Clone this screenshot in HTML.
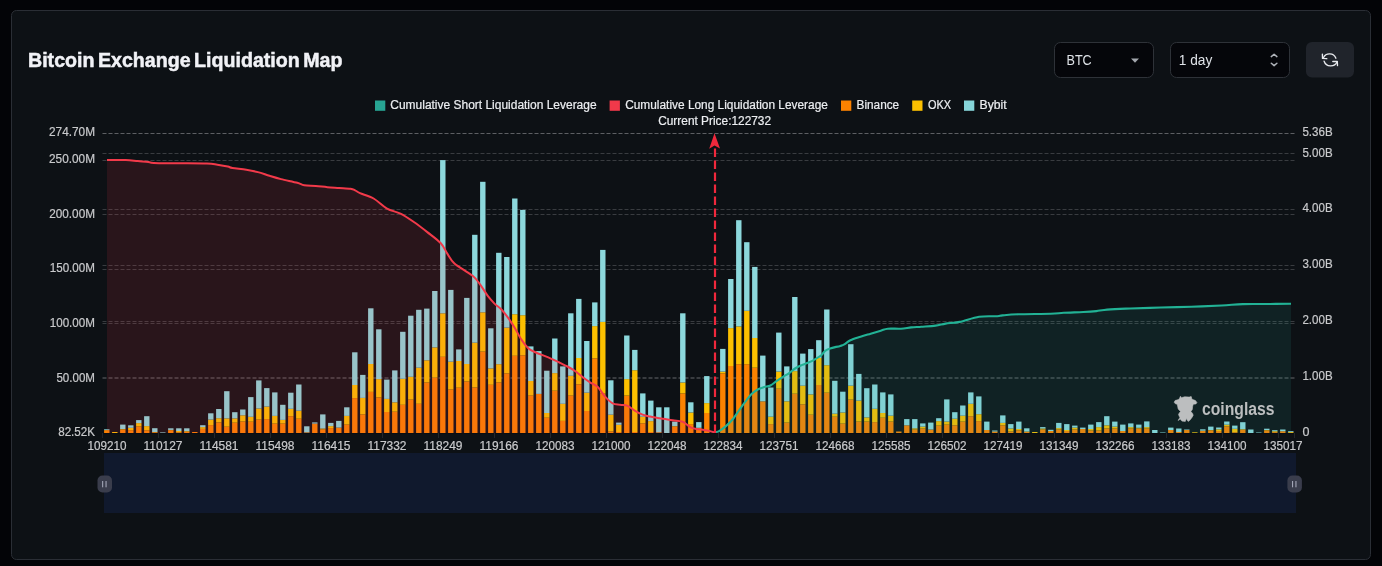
<!DOCTYPE html>
<html><head><meta charset="utf-8"><title>Bitcoin Exchange Liquidation Map</title>
<style>
html,body{margin:0;padding:0;background:#030407;width:1382px;height:566px;overflow:hidden}
svg{display:block}
text{font-family:'Liberation Sans', Arial, sans-serif}
</style></head><body>
<svg width="1382" height="566" viewBox="0 0 1382 566">
<rect x="0" y="0" width="1382" height="566" fill="#030407"/>
<rect x="11.5" y="10.5" width="1359" height="549" rx="5" fill="#0d1115" stroke="#2a2e35" stroke-width="1"/>

<text x="28" y="66.7" font-size="20" font-weight="700" fill="#f1f2f6" stroke="#f1f2f6" stroke-width="0.5" word-spacing="-2" textLength="314.5" lengthAdjust="spacingAndGlyphs">Bitcoin Exchange Liquidation Map</text>
<rect x="1054.5" y="42.5" width="99" height="35" rx="6" fill="#05060a" stroke="#2e3238"/>
<text x="1066.5" y="65" font-size="14" fill="#dfe3e8" textLength="25.2" lengthAdjust="spacingAndGlyphs">BTC</text>
<polygon points="1131,58.5 1139,58.5 1135,62.7" fill="#a3a7ad"/>
<rect x="1170.5" y="42.5" width="119" height="35" rx="6" fill="#05060a" stroke="#2e3238"/>
<text x="1178.8" y="65" font-size="14" fill="#dfe3e8" textLength="33.5" lengthAdjust="spacingAndGlyphs">1 day</text>
<path d="M1271.3 56.6 L1274.1 54.2 L1276.9 56.6 M1271.3 63.2 L1274.1 65.6 L1276.9 63.2" fill="none" stroke="#aeb2b8" stroke-width="1.5" stroke-linecap="round" stroke-linejoin="round"/>
<rect x="1306" y="42" width="48" height="35.5" rx="6" fill="#20242b"/>
<g fill="none" stroke="#e8eaee" stroke-width="1.35" stroke-linecap="round" stroke-linejoin="round"><path d="M1323.4 57.7 A6.85 6.85 0 0 1 1335.9 58.2"/><path d="M1322.4 54.1 L1322.5 58.4 L1326.8 58.7"/><path d="M1324.1 61.2 A6.96 6.96 0 0 0 1337.1 61.7"/><path d="M1332.8 61.5 L1337.3 61.5 L1337.5 65.6"/></g>
<rect x="375" y="100.5" width="10.3" height="10.3" fill="#27a593"/>
<text x="390.3" y="108.8" font-size="12" fill="#eceef1" stroke="#eceef1" stroke-width="0.2" textLength="206.3" lengthAdjust="spacingAndGlyphs">Cumulative Short Liquidation Leverage</text>
<rect x="609.6" y="100.5" width="10.3" height="10.3" fill="#f0394a"/>
<text x="625.2" y="108.8" font-size="12" fill="#eceef1" stroke="#eceef1" stroke-width="0.2" textLength="202.7" lengthAdjust="spacingAndGlyphs">Cumulative Long Liquidation Leverage</text>
<rect x="841" y="100.5" width="10.3" height="10.3" fill="#fc8200"/>
<text x="856.5" y="108.8" font-size="12" fill="#eceef1" stroke="#eceef1" stroke-width="0.2" textLength="42.7" lengthAdjust="spacingAndGlyphs">Binance</text>
<rect x="912.2" y="100.5" width="10.3" height="10.3" fill="#fcc000"/>
<text x="927.9" y="108.8" font-size="12" fill="#eceef1" stroke="#eceef1" stroke-width="0.2" textLength="23.1" lengthAdjust="spacingAndGlyphs">OKX</text>
<rect x="964" y="100.5" width="10.3" height="10.3" fill="#86d5d9"/>
<text x="979.6" y="108.8" font-size="12" fill="#eceef1" stroke="#eceef1" stroke-width="0.2" textLength="27.1" lengthAdjust="spacingAndGlyphs">Bybit</text>
<text x="658.2" y="124.9" font-size="12" fill="#eceef1" stroke="#eceef1" stroke-width="0.2" textLength="112.9" lengthAdjust="spacingAndGlyphs">Current Price:122732</text>
<line x1="102.5" y1="133.5" x2="1294.5" y2="133.5" stroke="rgba(255,255,255,0.185)" stroke-width="1" stroke-dasharray="4 2"/>
<line x1="102.5" y1="133.5" x2="1294.5" y2="133.5" stroke="rgba(255,255,255,0.185)" stroke-width="1" stroke-dasharray="4 2"/>
<line x1="102.5" y1="153.5" x2="1294.5" y2="153.5" stroke="rgba(255,255,255,0.185)" stroke-width="1" stroke-dasharray="4 2"/>
<line x1="102.5" y1="160.5" x2="1294.5" y2="160.5" stroke="rgba(255,255,255,0.185)" stroke-width="1" stroke-dasharray="4 2"/>
<line x1="102.5" y1="209.5" x2="1294.5" y2="209.5" stroke="rgba(255,255,255,0.185)" stroke-width="1" stroke-dasharray="4 2"/>
<line x1="102.5" y1="214.5" x2="1294.5" y2="214.5" stroke="rgba(255,255,255,0.185)" stroke-width="1" stroke-dasharray="4 2"/>
<line x1="102.5" y1="265.5" x2="1294.5" y2="265.5" stroke="rgba(255,255,255,0.185)" stroke-width="1" stroke-dasharray="4 2"/>
<line x1="102.5" y1="269.5" x2="1294.5" y2="269.5" stroke="rgba(255,255,255,0.185)" stroke-width="1" stroke-dasharray="4 2"/>
<line x1="102.5" y1="321.5" x2="1294.5" y2="321.5" stroke="rgba(255,255,255,0.185)" stroke-width="1" stroke-dasharray="4 2"/>
<line x1="102.5" y1="323.5" x2="1294.5" y2="323.5" stroke="rgba(255,255,255,0.185)" stroke-width="1" stroke-dasharray="4 2"/>
<line x1="102.5" y1="377.5" x2="1294.5" y2="377.5" stroke="rgba(255,255,255,0.185)" stroke-width="1" stroke-dasharray="4 2"/>
<line x1="102.5" y1="378.5" x2="1294.5" y2="378.5" stroke="rgba(255,255,255,0.185)" stroke-width="1" stroke-dasharray="4 2"/>
<rect x="104.1" y="430.10" width="5.4" height="2.90" fill="#fc8200"/>
<rect x="104.1" y="429.30" width="5.4" height="0.80" fill="#8cd8dc"/>
<rect x="112.1" y="432.00" width="5.4" height="1.00" fill="#fcc000"/>
<rect x="120.1" y="429.50" width="5.4" height="3.50" fill="#fc8200"/>
<rect x="120.1" y="429.00" width="5.4" height="0.50" fill="#fcc000"/>
<rect x="120.1" y="424.60" width="5.4" height="4.40" fill="#8cd8dc"/>
<rect x="128.1" y="430.15" width="5.4" height="2.85" fill="#fc8200"/>
<rect x="128.1" y="427.80" width="5.4" height="2.35" fill="#fcc000"/>
<rect x="128.1" y="425.30" width="5.4" height="2.50" fill="#8cd8dc"/>
<rect x="136.1" y="426.40" width="5.4" height="6.60" fill="#fc8200"/>
<rect x="136.1" y="423.10" width="5.4" height="3.30" fill="#fcc000"/>
<rect x="136.1" y="420.10" width="5.4" height="3.00" fill="#8cd8dc"/>
<rect x="144.1" y="430.30" width="5.4" height="2.70" fill="#fc8200"/>
<rect x="144.1" y="426.10" width="5.4" height="4.20" fill="#fcc000"/>
<rect x="144.1" y="416.20" width="5.4" height="9.90" fill="#8cd8dc"/>
<rect x="152.1" y="432.30" width="5.4" height="0.70" fill="#fc8200"/>
<rect x="152.1" y="432.00" width="5.4" height="0.30" fill="#fcc000"/>
<rect x="152.1" y="428.20" width="5.4" height="3.80" fill="#8cd8dc"/>
<rect x="160.1" y="432.40" width="5.4" height="0.60" fill="#8cd8dc"/>
<rect x="168.1" y="430.20" width="5.4" height="2.80" fill="#fc8200"/>
<rect x="168.1" y="429.90" width="5.4" height="0.30" fill="#fcc000"/>
<rect x="168.1" y="428.30" width="5.4" height="1.60" fill="#8cd8dc"/>
<rect x="176.1" y="432.30" width="5.4" height="0.70" fill="#fc8200"/>
<rect x="176.1" y="431.00" width="5.4" height="1.30" fill="#fcc000"/>
<rect x="176.1" y="428.30" width="5.4" height="2.70" fill="#8cd8dc"/>
<rect x="184.1" y="431.80" width="5.4" height="1.20" fill="#fc8200"/>
<rect x="184.1" y="431.10" width="5.4" height="0.70" fill="#fcc000"/>
<rect x="184.1" y="428.30" width="5.4" height="2.80" fill="#8cd8dc"/>
<rect x="192.1" y="432.00" width="5.4" height="1.00" fill="#fc8200"/>
<rect x="200.1" y="428.90" width="5.4" height="4.10" fill="#fc8200"/>
<rect x="200.1" y="427.10" width="5.4" height="1.80" fill="#fcc000"/>
<rect x="200.1" y="425.20" width="5.4" height="1.90" fill="#8cd8dc"/>
<rect x="208.1" y="425.10" width="5.4" height="7.90" fill="#fc8200"/>
<rect x="208.1" y="419.60" width="5.4" height="5.50" fill="#fcc000"/>
<rect x="208.1" y="413.30" width="5.4" height="6.30" fill="#8cd8dc"/>
<rect x="216.1" y="422.40" width="5.4" height="10.60" fill="#fc8200"/>
<rect x="216.1" y="418.20" width="5.4" height="4.20" fill="#fcc000"/>
<rect x="216.1" y="409.00" width="5.4" height="9.20" fill="#8cd8dc"/>
<rect x="224.1" y="426.70" width="5.4" height="6.30" fill="#fc8200"/>
<rect x="224.1" y="418.40" width="5.4" height="8.30" fill="#fcc000"/>
<rect x="224.1" y="391.20" width="5.4" height="27.20" fill="#8cd8dc"/>
<rect x="232.1" y="422.70" width="5.4" height="10.30" fill="#fc8200"/>
<rect x="232.1" y="418.40" width="5.4" height="4.30" fill="#fcc000"/>
<rect x="232.1" y="412.20" width="5.4" height="6.20" fill="#8cd8dc"/>
<rect x="240.1" y="421.50" width="5.4" height="11.50" fill="#fc8200"/>
<rect x="240.1" y="415.30" width="5.4" height="6.20" fill="#fcc000"/>
<rect x="240.1" y="409.50" width="5.4" height="5.80" fill="#8cd8dc"/>
<rect x="248.1" y="421.70" width="5.4" height="11.30" fill="#fc8200"/>
<rect x="248.1" y="416.80" width="5.4" height="4.90" fill="#fcc000"/>
<rect x="248.1" y="397.10" width="5.4" height="19.70" fill="#8cd8dc"/>
<rect x="256.1" y="419.60" width="5.4" height="13.40" fill="#fc8200"/>
<rect x="256.1" y="408.50" width="5.4" height="11.10" fill="#fcc000"/>
<rect x="256.1" y="380.40" width="5.4" height="28.10" fill="#8cd8dc"/>
<rect x="264.1" y="419.10" width="5.4" height="13.90" fill="#fc8200"/>
<rect x="264.1" y="406.60" width="5.4" height="12.50" fill="#fcc000"/>
<rect x="264.1" y="388.10" width="5.4" height="18.50" fill="#8cd8dc"/>
<rect x="272.1" y="423.60" width="5.4" height="9.40" fill="#fc8200"/>
<rect x="272.1" y="415.90" width="5.4" height="7.70" fill="#fcc000"/>
<rect x="272.1" y="392.40" width="5.4" height="23.50" fill="#8cd8dc"/>
<rect x="280.1" y="423.60" width="5.4" height="9.40" fill="#fc8200"/>
<rect x="280.1" y="419.90" width="5.4" height="3.70" fill="#fcc000"/>
<rect x="280.1" y="404.80" width="5.4" height="15.10" fill="#8cd8dc"/>
<rect x="288.1" y="416.20" width="5.4" height="16.80" fill="#fc8200"/>
<rect x="288.1" y="408.80" width="5.4" height="7.40" fill="#fcc000"/>
<rect x="288.1" y="392.70" width="5.4" height="16.10" fill="#8cd8dc"/>
<rect x="296.1" y="418.70" width="5.4" height="14.30" fill="#fc8200"/>
<rect x="296.1" y="410.70" width="5.4" height="8.00" fill="#fcc000"/>
<rect x="296.1" y="384.50" width="5.4" height="26.20" fill="#8cd8dc"/>
<rect x="304.1" y="432.50" width="5.4" height="0.50" fill="#fc8200"/>
<rect x="304.1" y="432.30" width="5.4" height="0.20" fill="#fcc000"/>
<rect x="304.1" y="426.30" width="5.4" height="6.00" fill="#8cd8dc"/>
<rect x="312.1" y="423.60" width="5.4" height="9.40" fill="#fc8200"/>
<rect x="312.1" y="422.40" width="5.4" height="1.20" fill="#8cd8dc"/>
<rect x="320.1" y="429.30" width="5.4" height="3.70" fill="#fc8200"/>
<rect x="320.1" y="428.50" width="5.4" height="0.80" fill="#fcc000"/>
<rect x="320.1" y="414.40" width="5.4" height="14.10" fill="#8cd8dc"/>
<rect x="328.1" y="428.10" width="5.4" height="4.90" fill="#fc8200"/>
<rect x="328.1" y="426.10" width="5.4" height="2.00" fill="#fcc000"/>
<rect x="328.1" y="422.90" width="5.4" height="3.20" fill="#8cd8dc"/>
<rect x="336.1" y="427.60" width="5.4" height="5.40" fill="#fc8200"/>
<rect x="336.1" y="420.90" width="5.4" height="6.70" fill="#8cd8dc"/>
<rect x="344.1" y="424.60" width="5.4" height="8.40" fill="#fc8200"/>
<rect x="344.1" y="415.90" width="5.4" height="8.70" fill="#fcc000"/>
<rect x="344.1" y="407.30" width="5.4" height="8.60" fill="#8cd8dc"/>
<rect x="352.1" y="398.10" width="5.4" height="34.90" fill="#fc8200"/>
<rect x="352.1" y="385.00" width="5.4" height="13.10" fill="#fcc000"/>
<rect x="352.1" y="352.30" width="5.4" height="32.70" fill="#8cd8dc"/>
<rect x="360.1" y="414.40" width="5.4" height="18.60" fill="#fc8200"/>
<rect x="360.1" y="397.90" width="5.4" height="16.50" fill="#fcc000"/>
<rect x="360.1" y="374.90" width="5.4" height="23.00" fill="#8cd8dc"/>
<rect x="368.1" y="391.90" width="5.4" height="41.10" fill="#fc8200"/>
<rect x="368.1" y="364.00" width="5.4" height="27.90" fill="#fcc000"/>
<rect x="368.1" y="308.30" width="5.4" height="55.70" fill="#8cd8dc"/>
<rect x="376.1" y="397.40" width="5.4" height="35.60" fill="#fc8200"/>
<rect x="376.1" y="379.10" width="5.4" height="18.30" fill="#fcc000"/>
<rect x="376.1" y="329.30" width="5.4" height="49.80" fill="#8cd8dc"/>
<rect x="384.1" y="412.00" width="5.4" height="21.00" fill="#fc8200"/>
<rect x="384.1" y="398.90" width="5.4" height="13.10" fill="#fcc000"/>
<rect x="384.1" y="379.60" width="5.4" height="19.30" fill="#8cd8dc"/>
<rect x="392.1" y="411.70" width="5.4" height="21.30" fill="#fc8200"/>
<rect x="392.1" y="402.30" width="5.4" height="9.40" fill="#fcc000"/>
<rect x="392.1" y="370.40" width="5.4" height="31.90" fill="#8cd8dc"/>
<rect x="400.1" y="404.80" width="5.4" height="28.20" fill="#fc8200"/>
<rect x="400.1" y="378.80" width="5.4" height="26.00" fill="#fcc000"/>
<rect x="400.1" y="331.80" width="5.4" height="47.00" fill="#8cd8dc"/>
<rect x="408.1" y="399.60" width="5.4" height="33.40" fill="#fc8200"/>
<rect x="408.1" y="376.80" width="5.4" height="22.80" fill="#fcc000"/>
<rect x="408.1" y="315.70" width="5.4" height="61.10" fill="#8cd8dc"/>
<rect x="416.1" y="403.80" width="5.4" height="29.20" fill="#fc8200"/>
<rect x="416.1" y="367.70" width="5.4" height="36.10" fill="#fcc000"/>
<rect x="416.1" y="309.80" width="5.4" height="57.90" fill="#8cd8dc"/>
<rect x="424.1" y="382.50" width="5.4" height="50.50" fill="#fc8200"/>
<rect x="424.1" y="360.30" width="5.4" height="22.20" fill="#fcc000"/>
<rect x="424.1" y="308.60" width="5.4" height="51.70" fill="#8cd8dc"/>
<rect x="432.1" y="377.60" width="5.4" height="55.40" fill="#fc8200"/>
<rect x="432.1" y="347.40" width="5.4" height="30.20" fill="#fcc000"/>
<rect x="432.1" y="291.00" width="5.4" height="56.40" fill="#8cd8dc"/>
<rect x="440.1" y="356.80" width="5.4" height="76.20" fill="#fc8200"/>
<rect x="440.1" y="313.30" width="5.4" height="43.50" fill="#fcc000"/>
<rect x="440.1" y="160.10" width="5.4" height="153.20" fill="#8cd8dc"/>
<rect x="448.1" y="389.50" width="5.4" height="43.50" fill="#fc8200"/>
<rect x="448.1" y="361.70" width="5.4" height="27.80" fill="#fcc000"/>
<rect x="448.1" y="289.90" width="5.4" height="71.80" fill="#8cd8dc"/>
<rect x="456.1" y="387.70" width="5.4" height="45.30" fill="#fc8200"/>
<rect x="456.1" y="361.00" width="5.4" height="26.70" fill="#fcc000"/>
<rect x="456.1" y="349.40" width="5.4" height="11.60" fill="#8cd8dc"/>
<rect x="464.1" y="381.50" width="5.4" height="51.50" fill="#fc8200"/>
<rect x="464.1" y="364.00" width="5.4" height="17.50" fill="#fcc000"/>
<rect x="464.1" y="297.90" width="5.4" height="66.10" fill="#8cd8dc"/>
<rect x="472.1" y="387.50" width="5.4" height="45.50" fill="#fc8200"/>
<rect x="472.1" y="342.70" width="5.4" height="44.80" fill="#fcc000"/>
<rect x="472.1" y="234.80" width="5.4" height="107.90" fill="#8cd8dc"/>
<rect x="480.1" y="351.60" width="5.4" height="81.40" fill="#fc8200"/>
<rect x="480.1" y="312.30" width="5.4" height="39.30" fill="#fcc000"/>
<rect x="480.1" y="181.80" width="5.4" height="130.50" fill="#8cd8dc"/>
<rect x="488.1" y="384.80" width="5.4" height="48.20" fill="#fc8200"/>
<rect x="488.1" y="368.40" width="5.4" height="16.40" fill="#fcc000"/>
<rect x="488.1" y="328.30" width="5.4" height="40.10" fill="#8cd8dc"/>
<rect x="496.1" y="382.50" width="5.4" height="50.50" fill="#fc8200"/>
<rect x="496.1" y="364.20" width="5.4" height="18.30" fill="#fcc000"/>
<rect x="496.1" y="252.80" width="5.4" height="111.40" fill="#8cd8dc"/>
<rect x="504.1" y="373.40" width="5.4" height="59.60" fill="#fc8200"/>
<rect x="504.1" y="327.60" width="5.4" height="45.80" fill="#fcc000"/>
<rect x="504.1" y="257.00" width="5.4" height="70.60" fill="#8cd8dc"/>
<rect x="512.1" y="355.80" width="5.4" height="77.20" fill="#fc8200"/>
<rect x="512.1" y="314.20" width="5.4" height="41.60" fill="#fcc000"/>
<rect x="512.1" y="198.50" width="5.4" height="115.70" fill="#8cd8dc"/>
<rect x="520.1" y="355.30" width="5.4" height="77.70" fill="#fc8200"/>
<rect x="520.1" y="315.20" width="5.4" height="40.10" fill="#fcc000"/>
<rect x="520.1" y="209.90" width="5.4" height="105.30" fill="#8cd8dc"/>
<rect x="528.1" y="395.60" width="5.4" height="37.40" fill="#fc8200"/>
<rect x="528.1" y="381.00" width="5.4" height="14.60" fill="#fcc000"/>
<rect x="528.1" y="346.40" width="5.4" height="34.60" fill="#8cd8dc"/>
<rect x="536.1" y="393.90" width="5.4" height="39.10" fill="#fc8200"/>
<rect x="536.1" y="351.10" width="5.4" height="42.80" fill="#8cd8dc"/>
<rect x="544.1" y="417.70" width="5.4" height="15.30" fill="#fc8200"/>
<rect x="544.1" y="413.00" width="5.4" height="4.70" fill="#fcc000"/>
<rect x="544.1" y="370.70" width="5.4" height="42.30" fill="#8cd8dc"/>
<rect x="552.1" y="390.70" width="5.4" height="42.30" fill="#fc8200"/>
<rect x="552.1" y="373.10" width="5.4" height="17.60" fill="#fcc000"/>
<rect x="552.1" y="338.50" width="5.4" height="34.60" fill="#8cd8dc"/>
<rect x="560.1" y="420.90" width="5.4" height="12.10" fill="#fc8200"/>
<rect x="560.1" y="403.80" width="5.4" height="17.10" fill="#fcc000"/>
<rect x="560.1" y="366.40" width="5.4" height="37.40" fill="#8cd8dc"/>
<rect x="568.1" y="395.60" width="5.4" height="37.40" fill="#fc8200"/>
<rect x="568.1" y="375.80" width="5.4" height="19.80" fill="#fcc000"/>
<rect x="568.1" y="313.30" width="5.4" height="62.50" fill="#8cd8dc"/>
<rect x="576.1" y="384.30" width="5.4" height="48.70" fill="#fc8200"/>
<rect x="576.1" y="358.00" width="5.4" height="26.30" fill="#fcc000"/>
<rect x="576.1" y="298.90" width="5.4" height="59.10" fill="#8cd8dc"/>
<rect x="584.1" y="411.00" width="5.4" height="22.00" fill="#fc8200"/>
<rect x="584.1" y="392.70" width="5.4" height="18.30" fill="#fcc000"/>
<rect x="584.1" y="341.00" width="5.4" height="51.70" fill="#8cd8dc"/>
<rect x="592.1" y="358.30" width="5.4" height="74.70" fill="#fc8200"/>
<rect x="592.1" y="326.10" width="5.4" height="32.20" fill="#fcc000"/>
<rect x="592.1" y="302.40" width="5.4" height="23.70" fill="#8cd8dc"/>
<rect x="600.1" y="393.20" width="5.4" height="39.80" fill="#fc8200"/>
<rect x="600.1" y="321.90" width="5.4" height="71.30" fill="#fcc000"/>
<rect x="600.1" y="249.90" width="5.4" height="72.00" fill="#8cd8dc"/>
<rect x="608.1" y="431.50" width="5.4" height="1.50" fill="#fc8200"/>
<rect x="608.1" y="414.70" width="5.4" height="16.80" fill="#fcc000"/>
<rect x="608.1" y="380.30" width="5.4" height="34.40" fill="#8cd8dc"/>
<rect x="616.1" y="432.00" width="5.4" height="1.00" fill="#fc8200"/>
<rect x="616.1" y="424.80" width="5.4" height="7.20" fill="#fcc000"/>
<rect x="616.1" y="422.60" width="5.4" height="2.20" fill="#8cd8dc"/>
<rect x="624.1" y="395.60" width="5.4" height="37.40" fill="#fc8200"/>
<rect x="624.1" y="379.10" width="5.4" height="16.50" fill="#fcc000"/>
<rect x="624.1" y="335.50" width="5.4" height="43.60" fill="#8cd8dc"/>
<rect x="632.1" y="432.00" width="5.4" height="1.00" fill="#fc8200"/>
<rect x="632.1" y="370.20" width="5.4" height="61.80" fill="#fcc000"/>
<rect x="632.1" y="349.90" width="5.4" height="20.30" fill="#8cd8dc"/>
<rect x="640.1" y="423.40" width="5.4" height="9.60" fill="#fc8200"/>
<rect x="640.1" y="416.70" width="5.4" height="6.70" fill="#fcc000"/>
<rect x="640.1" y="393.40" width="5.4" height="23.30" fill="#8cd8dc"/>
<rect x="648.1" y="432.00" width="5.4" height="1.00" fill="#fc8200"/>
<rect x="648.1" y="421.10" width="5.4" height="10.90" fill="#fcc000"/>
<rect x="648.1" y="400.60" width="5.4" height="20.50" fill="#8cd8dc"/>
<rect x="656.1" y="432.30" width="5.4" height="0.70" fill="#fc8200"/>
<rect x="656.1" y="407.30" width="5.4" height="25.00" fill="#8cd8dc"/>
<rect x="664.1" y="407.30" width="5.4" height="25.70" fill="#8cd8dc"/>
<rect x="672.1" y="426.60" width="5.4" height="6.40" fill="#fc8200"/>
<rect x="672.1" y="426.10" width="5.4" height="0.50" fill="#fcc000"/>
<rect x="672.1" y="421.60" width="5.4" height="4.50" fill="#8cd8dc"/>
<rect x="680.1" y="393.40" width="5.4" height="39.60" fill="#fc8200"/>
<rect x="680.1" y="382.50" width="5.4" height="10.90" fill="#fcc000"/>
<rect x="680.1" y="313.30" width="5.4" height="69.20" fill="#8cd8dc"/>
<rect x="688.1" y="424.10" width="5.4" height="8.90" fill="#fc8200"/>
<rect x="688.1" y="412.50" width="5.4" height="11.60" fill="#fcc000"/>
<rect x="688.1" y="402.30" width="5.4" height="10.20" fill="#8cd8dc"/>
<rect x="696.1" y="427.80" width="5.4" height="5.20" fill="#fc8200"/>
<rect x="696.1" y="422.10" width="5.4" height="5.70" fill="#8cd8dc"/>
<rect x="704.1" y="413.00" width="5.4" height="20.00" fill="#fc8200"/>
<rect x="704.1" y="403.10" width="5.4" height="9.90" fill="#fcc000"/>
<rect x="704.1" y="376.10" width="5.4" height="27.00" fill="#8cd8dc"/>
<rect x="720.1" y="373.40" width="5.4" height="59.60" fill="#fc8200"/>
<rect x="720.1" y="371.60" width="5.4" height="1.80" fill="#fcc000"/>
<rect x="720.1" y="348.90" width="5.4" height="22.70" fill="#8cd8dc"/>
<rect x="728.1" y="366.00" width="5.4" height="67.00" fill="#fc8200"/>
<rect x="728.1" y="328.10" width="5.4" height="37.90" fill="#fcc000"/>
<rect x="728.1" y="279.00" width="5.4" height="49.10" fill="#8cd8dc"/>
<rect x="736.1" y="364.20" width="5.4" height="68.80" fill="#fc8200"/>
<rect x="736.1" y="326.40" width="5.4" height="37.80" fill="#fcc000"/>
<rect x="736.1" y="220.20" width="5.4" height="106.20" fill="#8cd8dc"/>
<rect x="744.1" y="364.20" width="5.4" height="68.80" fill="#fc8200"/>
<rect x="744.1" y="310.80" width="5.4" height="53.40" fill="#fcc000"/>
<rect x="744.1" y="242.20" width="5.4" height="68.60" fill="#8cd8dc"/>
<rect x="752.1" y="367.70" width="5.4" height="65.30" fill="#fc8200"/>
<rect x="752.1" y="338.00" width="5.4" height="29.70" fill="#fcc000"/>
<rect x="752.1" y="266.90" width="5.4" height="71.10" fill="#8cd8dc"/>
<rect x="760.1" y="401.30" width="5.4" height="31.70" fill="#fc8200"/>
<rect x="760.1" y="355.60" width="5.4" height="45.70" fill="#8cd8dc"/>
<rect x="768.1" y="424.10" width="5.4" height="8.90" fill="#fc8200"/>
<rect x="768.1" y="416.70" width="5.4" height="7.40" fill="#fcc000"/>
<rect x="768.1" y="387.50" width="5.4" height="29.20" fill="#8cd8dc"/>
<rect x="776.1" y="388.70" width="5.4" height="44.30" fill="#fc8200"/>
<rect x="776.1" y="371.60" width="5.4" height="17.10" fill="#fcc000"/>
<rect x="776.1" y="332.60" width="5.4" height="39.00" fill="#8cd8dc"/>
<rect x="784.1" y="422.60" width="5.4" height="10.40" fill="#fc8200"/>
<rect x="784.1" y="401.30" width="5.4" height="21.30" fill="#fcc000"/>
<rect x="784.1" y="366.40" width="5.4" height="34.90" fill="#8cd8dc"/>
<rect x="792.1" y="393.70" width="5.4" height="39.30" fill="#fc8200"/>
<rect x="792.1" y="371.10" width="5.4" height="22.60" fill="#fcc000"/>
<rect x="792.1" y="297.00" width="5.4" height="74.10" fill="#8cd8dc"/>
<rect x="800.1" y="404.30" width="5.4" height="28.70" fill="#fc8200"/>
<rect x="800.1" y="385.70" width="5.4" height="18.60" fill="#fcc000"/>
<rect x="800.1" y="353.60" width="5.4" height="32.10" fill="#8cd8dc"/>
<rect x="808.1" y="414.70" width="5.4" height="18.30" fill="#fc8200"/>
<rect x="808.1" y="394.40" width="5.4" height="20.30" fill="#fcc000"/>
<rect x="808.1" y="349.10" width="5.4" height="45.30" fill="#8cd8dc"/>
<rect x="816.1" y="385.00" width="5.4" height="48.00" fill="#fc8200"/>
<rect x="816.1" y="358.00" width="5.4" height="27.00" fill="#fcc000"/>
<rect x="816.1" y="340.20" width="5.4" height="17.80" fill="#8cd8dc"/>
<rect x="824.1" y="392.70" width="5.4" height="40.30" fill="#fc8200"/>
<rect x="824.1" y="365.20" width="5.4" height="27.50" fill="#fcc000"/>
<rect x="824.1" y="309.50" width="5.4" height="55.70" fill="#8cd8dc"/>
<rect x="832.1" y="416.70" width="5.4" height="16.30" fill="#fc8200"/>
<rect x="832.1" y="413.70" width="5.4" height="3.00" fill="#fcc000"/>
<rect x="832.1" y="380.80" width="5.4" height="32.90" fill="#8cd8dc"/>
<rect x="840.1" y="423.60" width="5.4" height="9.40" fill="#fc8200"/>
<rect x="840.1" y="412.50" width="5.4" height="11.10" fill="#fcc000"/>
<rect x="840.1" y="391.70" width="5.4" height="20.80" fill="#8cd8dc"/>
<rect x="848.1" y="399.60" width="5.4" height="33.40" fill="#fc8200"/>
<rect x="848.1" y="385.70" width="5.4" height="13.90" fill="#fcc000"/>
<rect x="848.1" y="344.20" width="5.4" height="41.50" fill="#8cd8dc"/>
<rect x="856.1" y="421.60" width="5.4" height="11.40" fill="#fc8200"/>
<rect x="856.1" y="400.60" width="5.4" height="21.00" fill="#fcc000"/>
<rect x="856.1" y="373.90" width="5.4" height="26.70" fill="#8cd8dc"/>
<rect x="864.1" y="421.60" width="5.4" height="11.40" fill="#fc8200"/>
<rect x="864.1" y="417.40" width="5.4" height="4.20" fill="#fcc000"/>
<rect x="864.1" y="388.20" width="5.4" height="29.20" fill="#8cd8dc"/>
<rect x="872.1" y="422.10" width="5.4" height="10.90" fill="#fc8200"/>
<rect x="872.1" y="408.80" width="5.4" height="13.30" fill="#fcc000"/>
<rect x="872.1" y="384.50" width="5.4" height="24.30" fill="#8cd8dc"/>
<rect x="880.1" y="417.70" width="5.4" height="15.30" fill="#fc8200"/>
<rect x="880.1" y="413.00" width="5.4" height="4.70" fill="#fcc000"/>
<rect x="880.1" y="392.40" width="5.4" height="20.60" fill="#8cd8dc"/>
<rect x="888.1" y="421.60" width="5.4" height="11.40" fill="#fc8200"/>
<rect x="888.1" y="415.70" width="5.4" height="5.90" fill="#fcc000"/>
<rect x="888.1" y="394.40" width="5.4" height="21.30" fill="#8cd8dc"/>
<rect x="896.1" y="431.50" width="5.4" height="1.50" fill="#fc8200"/>
<rect x="904.1" y="425.30" width="5.4" height="7.70" fill="#fc8200"/>
<rect x="904.1" y="419.10" width="5.4" height="6.20" fill="#8cd8dc"/>
<rect x="912.1" y="429.50" width="5.4" height="3.50" fill="#fc8200"/>
<rect x="912.1" y="428.30" width="5.4" height="1.20" fill="#fcc000"/>
<rect x="912.1" y="419.10" width="5.4" height="9.20" fill="#8cd8dc"/>
<rect x="920.1" y="428.50" width="5.4" height="4.50" fill="#fc8200"/>
<rect x="920.1" y="426.60" width="5.4" height="1.90" fill="#fcc000"/>
<rect x="920.1" y="423.40" width="5.4" height="3.20" fill="#8cd8dc"/>
<rect x="928.1" y="429.50" width="5.4" height="3.50" fill="#fc8200"/>
<rect x="928.1" y="422.60" width="5.4" height="6.90" fill="#8cd8dc"/>
<rect x="936.1" y="425.60" width="5.4" height="7.40" fill="#fc8200"/>
<rect x="936.1" y="421.10" width="5.4" height="4.50" fill="#fcc000"/>
<rect x="936.1" y="418.20" width="5.4" height="2.90" fill="#8cd8dc"/>
<rect x="944.1" y="424.60" width="5.4" height="8.40" fill="#fc8200"/>
<rect x="944.1" y="421.60" width="5.4" height="3.00" fill="#fcc000"/>
<rect x="944.1" y="399.40" width="5.4" height="22.20" fill="#8cd8dc"/>
<rect x="952.1" y="425.30" width="5.4" height="7.70" fill="#fc8200"/>
<rect x="952.1" y="418.70" width="5.4" height="6.60" fill="#fcc000"/>
<rect x="952.1" y="412.20" width="5.4" height="6.50" fill="#8cd8dc"/>
<rect x="960.1" y="421.60" width="5.4" height="11.40" fill="#fc8200"/>
<rect x="960.1" y="415.70" width="5.4" height="5.90" fill="#fcc000"/>
<rect x="960.1" y="405.50" width="5.4" height="10.20" fill="#8cd8dc"/>
<rect x="968.1" y="416.20" width="5.4" height="16.80" fill="#fc8200"/>
<rect x="968.1" y="403.80" width="5.4" height="12.40" fill="#fcc000"/>
<rect x="968.1" y="392.40" width="5.4" height="11.40" fill="#8cd8dc"/>
<rect x="976.1" y="421.10" width="5.4" height="11.90" fill="#fc8200"/>
<rect x="976.1" y="414.20" width="5.4" height="6.90" fill="#fcc000"/>
<rect x="976.1" y="396.40" width="5.4" height="17.80" fill="#8cd8dc"/>
<rect x="984.1" y="430.00" width="5.4" height="3.00" fill="#fc8200"/>
<rect x="984.1" y="421.60" width="5.4" height="8.40" fill="#8cd8dc"/>
<rect x="992.1" y="431.50" width="5.4" height="1.50" fill="#fc8200"/>
<rect x="992.1" y="430.50" width="5.4" height="1.00" fill="#8cd8dc"/>
<rect x="1000.1" y="425.30" width="5.4" height="7.70" fill="#fc8200"/>
<rect x="1000.1" y="422.90" width="5.4" height="2.40" fill="#fcc000"/>
<rect x="1000.1" y="415.40" width="5.4" height="7.50" fill="#8cd8dc"/>
<rect x="1008.1" y="431.50" width="5.4" height="1.50" fill="#fc8200"/>
<rect x="1008.1" y="428.50" width="5.4" height="3.00" fill="#fcc000"/>
<rect x="1008.1" y="424.10" width="5.4" height="4.40" fill="#8cd8dc"/>
<rect x="1016.1" y="430.30" width="5.4" height="2.70" fill="#fc8200"/>
<rect x="1016.1" y="429.00" width="5.4" height="1.30" fill="#fcc000"/>
<rect x="1016.1" y="421.60" width="5.4" height="7.40" fill="#8cd8dc"/>
<rect x="1024.1" y="432.00" width="5.4" height="1.00" fill="#fc8200"/>
<rect x="1024.1" y="431.50" width="5.4" height="0.50" fill="#fcc000"/>
<rect x="1024.1" y="428.30" width="5.4" height="3.20" fill="#8cd8dc"/>
<rect x="1032.1" y="432.00" width="5.4" height="1.00" fill="#fcc000"/>
<rect x="1040.1" y="429.50" width="5.4" height="3.50" fill="#fc8200"/>
<rect x="1040.1" y="428.50" width="5.4" height="1.00" fill="#fcc000"/>
<rect x="1040.1" y="427.10" width="5.4" height="1.40" fill="#8cd8dc"/>
<rect x="1048.1" y="431.00" width="5.4" height="2.00" fill="#fc8200"/>
<rect x="1048.1" y="429.80" width="5.4" height="1.20" fill="#8cd8dc"/>
<rect x="1056.1" y="429.50" width="5.4" height="3.50" fill="#fc8200"/>
<rect x="1056.1" y="428.10" width="5.4" height="1.40" fill="#fcc000"/>
<rect x="1056.1" y="422.90" width="5.4" height="5.20" fill="#8cd8dc"/>
<rect x="1064.1" y="431.00" width="5.4" height="2.00" fill="#fc8200"/>
<rect x="1064.1" y="430.00" width="5.4" height="1.00" fill="#fcc000"/>
<rect x="1064.1" y="424.10" width="5.4" height="5.90" fill="#8cd8dc"/>
<rect x="1072.1" y="429.50" width="5.4" height="3.50" fill="#fc8200"/>
<rect x="1072.1" y="427.60" width="5.4" height="1.90" fill="#fcc000"/>
<rect x="1072.1" y="425.60" width="5.4" height="2.00" fill="#8cd8dc"/>
<rect x="1080.1" y="429.00" width="5.4" height="4.00" fill="#fc8200"/>
<rect x="1080.1" y="427.60" width="5.4" height="1.40" fill="#8cd8dc"/>
<rect x="1088.1" y="430.50" width="5.4" height="2.50" fill="#fc8200"/>
<rect x="1088.1" y="429.00" width="5.4" height="1.50" fill="#fcc000"/>
<rect x="1088.1" y="424.60" width="5.4" height="4.40" fill="#8cd8dc"/>
<rect x="1096.1" y="430.50" width="5.4" height="2.50" fill="#fc8200"/>
<rect x="1096.1" y="427.10" width="5.4" height="3.40" fill="#fcc000"/>
<rect x="1096.1" y="422.10" width="5.4" height="5.00" fill="#8cd8dc"/>
<rect x="1104.1" y="428.50" width="5.4" height="4.50" fill="#fc8200"/>
<rect x="1104.1" y="425.30" width="5.4" height="3.20" fill="#fcc000"/>
<rect x="1104.1" y="416.20" width="5.4" height="9.10" fill="#8cd8dc"/>
<rect x="1112.1" y="428.50" width="5.4" height="4.50" fill="#fc8200"/>
<rect x="1112.1" y="426.60" width="5.4" height="1.90" fill="#fcc000"/>
<rect x="1112.1" y="421.60" width="5.4" height="5.00" fill="#8cd8dc"/>
<rect x="1120.1" y="431.00" width="5.4" height="2.00" fill="#fc8200"/>
<rect x="1120.1" y="424.60" width="5.4" height="6.40" fill="#8cd8dc"/>
<rect x="1128.1" y="428.50" width="5.4" height="4.50" fill="#fc8200"/>
<rect x="1128.1" y="427.10" width="5.4" height="1.40" fill="#fcc000"/>
<rect x="1128.1" y="423.40" width="5.4" height="3.70" fill="#8cd8dc"/>
<rect x="1136.1" y="428.50" width="5.4" height="4.50" fill="#fc8200"/>
<rect x="1136.1" y="427.80" width="5.4" height="0.70" fill="#fcc000"/>
<rect x="1136.1" y="424.60" width="5.4" height="3.20" fill="#8cd8dc"/>
<rect x="1144.1" y="428.50" width="5.4" height="4.50" fill="#fc8200"/>
<rect x="1144.1" y="427.10" width="5.4" height="1.40" fill="#fcc000"/>
<rect x="1144.1" y="421.40" width="5.4" height="5.70" fill="#8cd8dc"/>
<rect x="1152.1" y="430.00" width="5.4" height="3.00" fill="#8cd8dc"/>
<rect x="1160.1" y="432.50" width="5.4" height="0.50" fill="#8cd8dc"/>
<rect x="1168.1" y="430.00" width="5.4" height="3.00" fill="#fc8200"/>
<rect x="1168.1" y="427.60" width="5.4" height="2.40" fill="#8cd8dc"/>
<rect x="1176.1" y="432.00" width="5.4" height="1.00" fill="#fc8200"/>
<rect x="1176.1" y="428.50" width="5.4" height="3.50" fill="#8cd8dc"/>
<rect x="1184.1" y="430.00" width="5.4" height="3.00" fill="#fc8200"/>
<rect x="1184.1" y="429.50" width="5.4" height="0.50" fill="#8cd8dc"/>
<rect x="1192.1" y="432.30" width="5.4" height="0.70" fill="#fcc000"/>
<rect x="1200.1" y="430.70" width="5.4" height="2.30" fill="#fc8200"/>
<rect x="1200.1" y="429.30" width="5.4" height="1.40" fill="#8cd8dc"/>
<rect x="1208.1" y="430.30" width="5.4" height="2.70" fill="#fc8200"/>
<rect x="1208.1" y="430.00" width="5.4" height="0.30" fill="#fcc000"/>
<rect x="1208.1" y="426.60" width="5.4" height="3.40" fill="#8cd8dc"/>
<rect x="1216.1" y="431.00" width="5.4" height="2.00" fill="#fc8200"/>
<rect x="1216.1" y="429.30" width="5.4" height="1.70" fill="#fcc000"/>
<rect x="1216.1" y="427.50" width="5.4" height="1.80" fill="#8cd8dc"/>
<rect x="1224.1" y="426.40" width="5.4" height="6.60" fill="#fc8200"/>
<rect x="1224.1" y="424.70" width="5.4" height="1.70" fill="#fcc000"/>
<rect x="1224.1" y="421.50" width="5.4" height="3.20" fill="#8cd8dc"/>
<rect x="1232.1" y="432.20" width="5.4" height="0.80" fill="#fc8200"/>
<rect x="1232.1" y="428.80" width="5.4" height="3.40" fill="#fcc000"/>
<rect x="1232.1" y="425.60" width="5.4" height="3.20" fill="#8cd8dc"/>
<rect x="1240.1" y="429.80" width="5.4" height="3.20" fill="#fc8200"/>
<rect x="1240.1" y="429.20" width="5.4" height="0.60" fill="#fcc000"/>
<rect x="1240.1" y="422.20" width="5.4" height="7.00" fill="#8cd8dc"/>
<rect x="1248.1" y="429.50" width="5.4" height="3.50" fill="#8cd8dc"/>
<rect x="1256.1" y="432.50" width="5.4" height="0.50" fill="#8cd8dc"/>
<rect x="1264.1" y="430.40" width="5.4" height="2.60" fill="#fc8200"/>
<rect x="1264.1" y="430.00" width="5.4" height="0.40" fill="#fcc000"/>
<rect x="1264.1" y="428.70" width="5.4" height="1.30" fill="#8cd8dc"/>
<rect x="1272.1" y="432.10" width="5.4" height="0.90" fill="#fc8200"/>
<rect x="1272.1" y="431.20" width="5.4" height="0.90" fill="#fcc000"/>
<rect x="1272.1" y="430.20" width="5.4" height="1.00" fill="#8cd8dc"/>
<rect x="1280.1" y="431.20" width="5.4" height="1.80" fill="#fc8200"/>
<rect x="1280.1" y="429.50" width="5.4" height="1.70" fill="#8cd8dc"/>
<rect x="1288.1" y="432.10" width="5.4" height="0.90" fill="#fcc000"/>
<rect x="1288.1" y="431.20" width="5.4" height="0.90" fill="#8cd8dc"/>
<path d="M107,160 C110.13,160.02 120.67,159.92 125.8,160.1 C130.93,160.28 134.03,160.80 137.8,161.1 C141.57,161.40 145.75,161.60 148.4,161.9 C151.05,162.20 148.85,162.68 153.7,162.9 C158.55,163.12 168.63,163.10 177.5,163.2 C186.37,163.30 200.25,163.23 206.9,163.5 C213.55,163.77 213.92,164.28 217.4,164.8 C220.88,165.32 225.30,166.07 227.8,166.6 C230.30,167.13 229.32,167.47 232.4,168 C235.48,168.53 242.05,169.12 246.3,169.8 C250.55,170.48 254.03,171.10 257.9,172.1 C261.77,173.10 265.65,174.63 269.5,175.8 C273.35,176.97 276.37,177.93 281,179.1 C285.63,180.27 293.43,181.77 297.3,182.8 C301.17,183.83 301.12,184.77 304.2,185.3 C307.28,185.83 311.93,185.68 315.8,186 C319.67,186.32 323.55,186.87 327.4,187.2 C331.25,187.53 335.05,187.73 338.9,188 C342.75,188.27 347.80,188.42 350.5,188.8 C353.20,189.18 353.52,189.57 355.1,190.3 C356.68,191.03 356.92,191.83 360,193.2 C363.08,194.57 369.10,195.93 373.6,198.5 C378.10,201.07 382.52,206.08 387,208.6 C391.48,211.12 396.02,211.37 400.5,213.6 C404.98,215.83 409.43,218.92 413.9,222 C418.37,225.08 422.82,228.57 427.3,232.1 C431.78,235.63 437.43,239.57 440.8,243.2 C444.17,246.83 445.27,250.55 447.5,253.9 C449.73,257.25 450.85,260.22 454.2,263.3 C457.55,266.38 464.23,270.05 467.6,272.4 C470.97,274.75 472.15,275.17 474.4,277.4 C476.65,279.63 478.87,282.72 481.1,285.8 C483.33,288.88 485.57,292.93 487.8,295.9 C490.03,298.87 492.27,301.37 494.5,303.6 C496.73,305.83 498.95,306.95 501.2,309.3 C503.45,311.65 505.75,314.62 508,317.7 C510.25,320.78 512.47,324.15 514.7,327.8 C516.93,331.45 519.17,336.23 521.4,339.6 C523.63,342.97 525.87,345.93 528.1,348 C530.33,350.07 531.43,350.43 534.8,352 C538.17,353.57 544.10,355.60 548.3,357.4 C552.50,359.20 556.80,361.28 560,362.8 C563.20,364.32 565.00,365.13 567.5,366.5 C570.00,367.87 572.50,369.25 575,371 C577.50,372.75 580.00,375.12 582.5,377 C585.00,378.88 587.48,380.67 590,382.3 C592.52,383.93 595.08,384.42 597.6,386.8 C600.12,389.18 602.60,393.85 605.1,396.6 C607.60,399.35 610.10,401.93 612.6,403.3 C615.10,404.67 617.60,404.37 620.1,404.8 C622.60,405.23 625.10,404.90 627.6,405.9 C630.10,406.90 632.60,409.35 635.1,410.8 C637.60,412.25 640.10,413.63 642.6,414.6 C645.10,415.57 647.58,416.05 650.1,416.6 C652.62,417.15 655.18,417.48 657.7,417.9 C660.22,418.32 662.70,418.70 665.2,419.1 C667.70,419.50 669.95,419.92 672.7,420.3 C675.45,420.68 679.70,420.97 681.7,421.4 C683.70,421.83 683.20,421.90 684.7,422.9 C686.20,423.90 688.70,426.40 690.7,427.4 C692.70,428.40 694.45,428.48 696.7,428.9 C698.95,429.32 701.95,429.53 704.2,429.9 C706.45,430.27 708.40,430.67 710.2,431.1 C712.00,431.53 714.20,432.27 715,432.5 L715,433.0 L107,433.0 Z" fill="#f0394a" fill-opacity="0.125"/>
<path d="M715,432.5 C715.75,432.22 717.68,431.87 719.5,430.8 C721.32,429.73 723.77,427.95 725.9,426.1 C728.03,424.25 730.18,422.22 732.3,419.7 C734.42,417.18 736.48,413.92 738.6,411 C740.72,408.08 742.88,404.98 745,402.2 C747.12,399.42 749.18,396.42 751.3,394.3 C753.42,392.18 755.58,390.70 757.7,389.5 C759.82,388.30 761.88,387.77 764,387.1 C766.12,386.43 768.27,386.55 770.4,385.5 C772.53,384.45 774.68,382.25 776.8,380.8 C778.92,379.35 780.98,378.13 783.1,376.8 C785.22,375.47 787.38,374.27 789.5,372.8 C791.62,371.33 793.68,369.32 795.8,368 C797.92,366.68 800.08,365.82 802.2,364.9 C804.32,363.98 806.38,363.43 808.5,362.5 C810.62,361.57 812.77,360.50 814.9,359.3 C817.03,358.10 819.60,356.72 821.3,355.3 C823.00,353.88 823.63,351.95 825.1,350.8 C826.57,349.65 827.57,349.22 830.1,348.4 C832.63,347.58 837.93,346.57 840.3,345.9 C842.67,345.23 842.62,345.33 844.3,344.4 C845.98,343.47 847.70,341.57 850.4,340.3 C853.10,339.03 857.12,337.90 860.5,336.8 C863.88,335.70 867.32,334.72 870.7,333.7 C874.08,332.68 877.93,331.53 880.8,330.7 C883.67,329.87 884.53,329.03 887.9,328.7 C891.27,328.37 897.12,328.92 901,328.7 C904.88,328.48 907.82,327.73 911.2,327.4 C914.58,327.07 917.25,327.00 921.3,326.7 C925.35,326.40 931.45,326.12 935.5,325.6 C939.55,325.08 941.60,324.22 945.6,323.6 C949.60,322.98 953.92,323.05 959.5,321.9 C965.08,320.75 972.80,317.65 979.1,316.7 C985.40,315.75 993.40,316.42 997.3,316.2 C1001.20,315.98 999.03,315.72 1002.5,315.4 C1005.97,315.08 1010.07,314.57 1018.1,314.3 C1026.13,314.03 1043.10,314.05 1050.7,313.8 C1058.30,313.55 1058.27,313.10 1063.7,312.8 C1069.13,312.50 1077.87,312.28 1083.3,312 C1088.73,311.72 1092.83,311.43 1096.3,311.1 C1099.77,310.77 1100.15,310.37 1104.1,310 C1108.05,309.63 1115.62,309.15 1120,308.9 C1124.38,308.65 1123.60,308.73 1130.4,308.5 C1137.20,308.27 1150.67,307.80 1160.8,307.5 C1170.93,307.20 1181.07,307.03 1191.2,306.7 C1201.33,306.37 1213.00,305.93 1221.6,305.5 C1230.20,305.07 1235.22,304.35 1242.8,304.1 C1250.38,303.85 1259.07,304.07 1267.1,304 C1275.13,303.93 1287.02,303.75 1291,303.7 L1291,433.0 L715,433.0 Z" fill="#26a690" fill-opacity="0.12"/>
<path d="M107,160 C110.13,160.02 120.67,159.92 125.8,160.1 C130.93,160.28 134.03,160.80 137.8,161.1 C141.57,161.40 145.75,161.60 148.4,161.9 C151.05,162.20 148.85,162.68 153.7,162.9 C158.55,163.12 168.63,163.10 177.5,163.2 C186.37,163.30 200.25,163.23 206.9,163.5 C213.55,163.77 213.92,164.28 217.4,164.8 C220.88,165.32 225.30,166.07 227.8,166.6 C230.30,167.13 229.32,167.47 232.4,168 C235.48,168.53 242.05,169.12 246.3,169.8 C250.55,170.48 254.03,171.10 257.9,172.1 C261.77,173.10 265.65,174.63 269.5,175.8 C273.35,176.97 276.37,177.93 281,179.1 C285.63,180.27 293.43,181.77 297.3,182.8 C301.17,183.83 301.12,184.77 304.2,185.3 C307.28,185.83 311.93,185.68 315.8,186 C319.67,186.32 323.55,186.87 327.4,187.2 C331.25,187.53 335.05,187.73 338.9,188 C342.75,188.27 347.80,188.42 350.5,188.8 C353.20,189.18 353.52,189.57 355.1,190.3 C356.68,191.03 356.92,191.83 360,193.2 C363.08,194.57 369.10,195.93 373.6,198.5 C378.10,201.07 382.52,206.08 387,208.6 C391.48,211.12 396.02,211.37 400.5,213.6 C404.98,215.83 409.43,218.92 413.9,222 C418.37,225.08 422.82,228.57 427.3,232.1 C431.78,235.63 437.43,239.57 440.8,243.2 C444.17,246.83 445.27,250.55 447.5,253.9 C449.73,257.25 450.85,260.22 454.2,263.3 C457.55,266.38 464.23,270.05 467.6,272.4 C470.97,274.75 472.15,275.17 474.4,277.4 C476.65,279.63 478.87,282.72 481.1,285.8 C483.33,288.88 485.57,292.93 487.8,295.9 C490.03,298.87 492.27,301.37 494.5,303.6 C496.73,305.83 498.95,306.95 501.2,309.3 C503.45,311.65 505.75,314.62 508,317.7 C510.25,320.78 512.47,324.15 514.7,327.8 C516.93,331.45 519.17,336.23 521.4,339.6 C523.63,342.97 525.87,345.93 528.1,348 C530.33,350.07 531.43,350.43 534.8,352 C538.17,353.57 544.10,355.60 548.3,357.4 C552.50,359.20 556.80,361.28 560,362.8 C563.20,364.32 565.00,365.13 567.5,366.5 C570.00,367.87 572.50,369.25 575,371 C577.50,372.75 580.00,375.12 582.5,377 C585.00,378.88 587.48,380.67 590,382.3 C592.52,383.93 595.08,384.42 597.6,386.8 C600.12,389.18 602.60,393.85 605.1,396.6 C607.60,399.35 610.10,401.93 612.6,403.3 C615.10,404.67 617.60,404.37 620.1,404.8 C622.60,405.23 625.10,404.90 627.6,405.9 C630.10,406.90 632.60,409.35 635.1,410.8 C637.60,412.25 640.10,413.63 642.6,414.6 C645.10,415.57 647.58,416.05 650.1,416.6 C652.62,417.15 655.18,417.48 657.7,417.9 C660.22,418.32 662.70,418.70 665.2,419.1 C667.70,419.50 669.95,419.92 672.7,420.3 C675.45,420.68 679.70,420.97 681.7,421.4 C683.70,421.83 683.20,421.90 684.7,422.9 C686.20,423.90 688.70,426.40 690.7,427.4 C692.70,428.40 694.45,428.48 696.7,428.9 C698.95,429.32 701.95,429.53 704.2,429.9 C706.45,430.27 708.40,430.67 710.2,431.1 C712.00,431.53 714.20,432.27 715,432.5" fill="none" stroke="#f23a4a" stroke-width="2" stroke-linejoin="round"/>
<path d="M715,432.5 C715.75,432.22 717.68,431.87 719.5,430.8 C721.32,429.73 723.77,427.95 725.9,426.1 C728.03,424.25 730.18,422.22 732.3,419.7 C734.42,417.18 736.48,413.92 738.6,411 C740.72,408.08 742.88,404.98 745,402.2 C747.12,399.42 749.18,396.42 751.3,394.3 C753.42,392.18 755.58,390.70 757.7,389.5 C759.82,388.30 761.88,387.77 764,387.1 C766.12,386.43 768.27,386.55 770.4,385.5 C772.53,384.45 774.68,382.25 776.8,380.8 C778.92,379.35 780.98,378.13 783.1,376.8 C785.22,375.47 787.38,374.27 789.5,372.8 C791.62,371.33 793.68,369.32 795.8,368 C797.92,366.68 800.08,365.82 802.2,364.9 C804.32,363.98 806.38,363.43 808.5,362.5 C810.62,361.57 812.77,360.50 814.9,359.3 C817.03,358.10 819.60,356.72 821.3,355.3 C823.00,353.88 823.63,351.95 825.1,350.8 C826.57,349.65 827.57,349.22 830.1,348.4 C832.63,347.58 837.93,346.57 840.3,345.9 C842.67,345.23 842.62,345.33 844.3,344.4 C845.98,343.47 847.70,341.57 850.4,340.3 C853.10,339.03 857.12,337.90 860.5,336.8 C863.88,335.70 867.32,334.72 870.7,333.7 C874.08,332.68 877.93,331.53 880.8,330.7 C883.67,329.87 884.53,329.03 887.9,328.7 C891.27,328.37 897.12,328.92 901,328.7 C904.88,328.48 907.82,327.73 911.2,327.4 C914.58,327.07 917.25,327.00 921.3,326.7 C925.35,326.40 931.45,326.12 935.5,325.6 C939.55,325.08 941.60,324.22 945.6,323.6 C949.60,322.98 953.92,323.05 959.5,321.9 C965.08,320.75 972.80,317.65 979.1,316.7 C985.40,315.75 993.40,316.42 997.3,316.2 C1001.20,315.98 999.03,315.72 1002.5,315.4 C1005.97,315.08 1010.07,314.57 1018.1,314.3 C1026.13,314.03 1043.10,314.05 1050.7,313.8 C1058.30,313.55 1058.27,313.10 1063.7,312.8 C1069.13,312.50 1077.87,312.28 1083.3,312 C1088.73,311.72 1092.83,311.43 1096.3,311.1 C1099.77,310.77 1100.15,310.37 1104.1,310 C1108.05,309.63 1115.62,309.15 1120,308.9 C1124.38,308.65 1123.60,308.73 1130.4,308.5 C1137.20,308.27 1150.67,307.80 1160.8,307.5 C1170.93,307.20 1181.07,307.03 1191.2,306.7 C1201.33,306.37 1213.00,305.93 1221.6,305.5 C1230.20,305.07 1235.22,304.35 1242.8,304.1 C1250.38,303.85 1259.07,304.07 1267.1,304 C1275.13,303.93 1287.02,303.75 1291,303.7" fill="none" stroke="#22b295" stroke-width="2.1" stroke-linejoin="round"/>
<line x1="102.5" y1="433.5" x2="1294.5" y2="433.5" stroke="#0a0d11" stroke-width="1"/>
<line x1="102.5" y1="433" x2="102.5" y2="438" stroke="#22262c" stroke-width="1"/>
<line x1="158.5" y1="433" x2="158.5" y2="438" stroke="#22262c" stroke-width="1"/>
<line x1="214.5" y1="433" x2="214.5" y2="438" stroke="#22262c" stroke-width="1"/>
<line x1="270.5" y1="433" x2="270.5" y2="438" stroke="#22262c" stroke-width="1"/>
<line x1="326.5" y1="433" x2="326.5" y2="438" stroke="#22262c" stroke-width="1"/>
<line x1="382.5" y1="433" x2="382.5" y2="438" stroke="#22262c" stroke-width="1"/>
<line x1="438.5" y1="433" x2="438.5" y2="438" stroke="#22262c" stroke-width="1"/>
<line x1="494.5" y1="433" x2="494.5" y2="438" stroke="#22262c" stroke-width="1"/>
<line x1="550.5" y1="433" x2="550.5" y2="438" stroke="#22262c" stroke-width="1"/>
<line x1="606.5" y1="433" x2="606.5" y2="438" stroke="#22262c" stroke-width="1"/>
<line x1="662.5" y1="433" x2="662.5" y2="438" stroke="#22262c" stroke-width="1"/>
<line x1="718.5" y1="433" x2="718.5" y2="438" stroke="#22262c" stroke-width="1"/>
<line x1="774.5" y1="433" x2="774.5" y2="438" stroke="#22262c" stroke-width="1"/>
<line x1="830.5" y1="433" x2="830.5" y2="438" stroke="#22262c" stroke-width="1"/>
<line x1="886.5" y1="433" x2="886.5" y2="438" stroke="#22262c" stroke-width="1"/>
<line x1="942.5" y1="433" x2="942.5" y2="438" stroke="#22262c" stroke-width="1"/>
<line x1="998.5" y1="433" x2="998.5" y2="438" stroke="#22262c" stroke-width="1"/>
<line x1="1054.5" y1="433" x2="1054.5" y2="438" stroke="#22262c" stroke-width="1"/>
<line x1="1110.5" y1="433" x2="1110.5" y2="438" stroke="#22262c" stroke-width="1"/>
<line x1="1166.5" y1="433" x2="1166.5" y2="438" stroke="#22262c" stroke-width="1"/>
<line x1="1222.5" y1="433" x2="1222.5" y2="438" stroke="#22262c" stroke-width="1"/>
<line x1="1278.5" y1="433" x2="1278.5" y2="438" stroke="#22262c" stroke-width="1"/>
<line x1="1294.5" y1="433" x2="1294.5" y2="438" stroke="#22262c" stroke-width="1"/>
<line x1="715" y1="433" x2="715" y2="146" stroke="#f0283c" stroke-width="2.2" stroke-dasharray="8.5 3.5" stroke-dashoffset="0"/>
<polygon points="714.5,133.3 709.2,148.8 714.5,145.5 720,148.6" fill="#f0283c"/>
<text x="107" y="449.9" font-size="12.2" fill="#c9cacc" stroke="#c9cacc" stroke-width="0.2" text-anchor="middle" textLength="39" lengthAdjust="spacingAndGlyphs">109210</text>
<text x="163" y="449.9" font-size="12.2" fill="#c9cacc" stroke="#c9cacc" stroke-width="0.2" text-anchor="middle" textLength="39" lengthAdjust="spacingAndGlyphs">110127</text>
<text x="219" y="449.9" font-size="12.2" fill="#c9cacc" stroke="#c9cacc" stroke-width="0.2" text-anchor="middle" textLength="39" lengthAdjust="spacingAndGlyphs">114581</text>
<text x="275" y="449.9" font-size="12.2" fill="#c9cacc" stroke="#c9cacc" stroke-width="0.2" text-anchor="middle" textLength="39" lengthAdjust="spacingAndGlyphs">115498</text>
<text x="331" y="449.9" font-size="12.2" fill="#c9cacc" stroke="#c9cacc" stroke-width="0.2" text-anchor="middle" textLength="39" lengthAdjust="spacingAndGlyphs">116415</text>
<text x="387" y="449.9" font-size="12.2" fill="#c9cacc" stroke="#c9cacc" stroke-width="0.2" text-anchor="middle" textLength="39" lengthAdjust="spacingAndGlyphs">117332</text>
<text x="443" y="449.9" font-size="12.2" fill="#c9cacc" stroke="#c9cacc" stroke-width="0.2" text-anchor="middle" textLength="39" lengthAdjust="spacingAndGlyphs">118249</text>
<text x="499" y="449.9" font-size="12.2" fill="#c9cacc" stroke="#c9cacc" stroke-width="0.2" text-anchor="middle" textLength="39" lengthAdjust="spacingAndGlyphs">119166</text>
<text x="555" y="449.9" font-size="12.2" fill="#c9cacc" stroke="#c9cacc" stroke-width="0.2" text-anchor="middle" textLength="39" lengthAdjust="spacingAndGlyphs">120083</text>
<text x="611" y="449.9" font-size="12.2" fill="#c9cacc" stroke="#c9cacc" stroke-width="0.2" text-anchor="middle" textLength="39" lengthAdjust="spacingAndGlyphs">121000</text>
<text x="667" y="449.9" font-size="12.2" fill="#c9cacc" stroke="#c9cacc" stroke-width="0.2" text-anchor="middle" textLength="39" lengthAdjust="spacingAndGlyphs">122048</text>
<text x="723" y="449.9" font-size="12.2" fill="#c9cacc" stroke="#c9cacc" stroke-width="0.2" text-anchor="middle" textLength="39" lengthAdjust="spacingAndGlyphs">122834</text>
<text x="779" y="449.9" font-size="12.2" fill="#c9cacc" stroke="#c9cacc" stroke-width="0.2" text-anchor="middle" textLength="39" lengthAdjust="spacingAndGlyphs">123751</text>
<text x="835" y="449.9" font-size="12.2" fill="#c9cacc" stroke="#c9cacc" stroke-width="0.2" text-anchor="middle" textLength="39" lengthAdjust="spacingAndGlyphs">124668</text>
<text x="891" y="449.9" font-size="12.2" fill="#c9cacc" stroke="#c9cacc" stroke-width="0.2" text-anchor="middle" textLength="39" lengthAdjust="spacingAndGlyphs">125585</text>
<text x="947" y="449.9" font-size="12.2" fill="#c9cacc" stroke="#c9cacc" stroke-width="0.2" text-anchor="middle" textLength="39" lengthAdjust="spacingAndGlyphs">126502</text>
<text x="1003" y="449.9" font-size="12.2" fill="#c9cacc" stroke="#c9cacc" stroke-width="0.2" text-anchor="middle" textLength="39" lengthAdjust="spacingAndGlyphs">127419</text>
<text x="1059" y="449.9" font-size="12.2" fill="#c9cacc" stroke="#c9cacc" stroke-width="0.2" text-anchor="middle" textLength="39" lengthAdjust="spacingAndGlyphs">131349</text>
<text x="1115" y="449.9" font-size="12.2" fill="#c9cacc" stroke="#c9cacc" stroke-width="0.2" text-anchor="middle" textLength="39" lengthAdjust="spacingAndGlyphs">132266</text>
<text x="1171" y="449.9" font-size="12.2" fill="#c9cacc" stroke="#c9cacc" stroke-width="0.2" text-anchor="middle" textLength="39" lengthAdjust="spacingAndGlyphs">133183</text>
<text x="1227" y="449.9" font-size="12.2" fill="#c9cacc" stroke="#c9cacc" stroke-width="0.2" text-anchor="middle" textLength="39" lengthAdjust="spacingAndGlyphs">134100</text>
<text x="1283" y="449.9" font-size="12.2" fill="#c9cacc" stroke="#c9cacc" stroke-width="0.2" text-anchor="middle" textLength="39" lengthAdjust="spacingAndGlyphs">135017</text>
<text x="95" y="136.2" font-size="12.5" fill="#c9cacc" stroke="#c9cacc" stroke-width="0.2" text-anchor="end" textLength="46" lengthAdjust="spacingAndGlyphs">274.70M</text>
<text x="95" y="163.2" font-size="12.5" fill="#c9cacc" stroke="#c9cacc" stroke-width="0.2" text-anchor="end" textLength="46" lengthAdjust="spacingAndGlyphs">250.00M</text>
<text x="95" y="217.8" font-size="12.5" fill="#c9cacc" stroke="#c9cacc" stroke-width="0.2" text-anchor="end" textLength="45.8" lengthAdjust="spacingAndGlyphs">200.00M</text>
<text x="95" y="272.4" font-size="12.5" fill="#c9cacc" stroke="#c9cacc" stroke-width="0.2" text-anchor="end" textLength="45.3" lengthAdjust="spacingAndGlyphs">150.00M</text>
<text x="95" y="327.0" font-size="12.5" fill="#c9cacc" stroke="#c9cacc" stroke-width="0.2" text-anchor="end" textLength="45.3" lengthAdjust="spacingAndGlyphs">100.00M</text>
<text x="95" y="381.7" font-size="12.5" fill="#c9cacc" stroke="#c9cacc" stroke-width="0.2" text-anchor="end" textLength="38.6" lengthAdjust="spacingAndGlyphs">50.00M</text>
<text x="95" y="436.2" font-size="12.5" fill="#c9cacc" stroke="#c9cacc" stroke-width="0.2" text-anchor="end" textLength="36.8" lengthAdjust="spacingAndGlyphs">82.52K</text>
<text x="1302.4" y="136.3" font-size="12.5" fill="#c9cacc" stroke="#c9cacc" stroke-width="0.2" textLength="30.2" lengthAdjust="spacingAndGlyphs">5.36B</text>
<text x="1302.4" y="156.5" font-size="12.5" fill="#c9cacc" stroke="#c9cacc" stroke-width="0.2" textLength="30.2" lengthAdjust="spacingAndGlyphs">5.00B</text>
<text x="1302.4" y="212.4" font-size="12.5" fill="#c9cacc" stroke="#c9cacc" stroke-width="0.2" textLength="30.2" lengthAdjust="spacingAndGlyphs">4.00B</text>
<text x="1302.4" y="268.4" font-size="12.5" fill="#c9cacc" stroke="#c9cacc" stroke-width="0.2" textLength="30.2" lengthAdjust="spacingAndGlyphs">3.00B</text>
<text x="1302.4" y="324.4" font-size="12.5" fill="#c9cacc" stroke="#c9cacc" stroke-width="0.2" textLength="30.2" lengthAdjust="spacingAndGlyphs">2.00B</text>
<text x="1302.4" y="380.3" font-size="12.5" fill="#c9cacc" stroke="#c9cacc" stroke-width="0.2" textLength="30.2" lengthAdjust="spacingAndGlyphs">1.00B</text>
<text x="1302.4" y="436.3" font-size="12.5" fill="#c9cacc" stroke="#c9cacc" stroke-width="0.2">0</text>
<text x="1202" y="414.8" font-size="18.8" font-weight="700" fill="#bcbebf" textLength="72.5" lengthAdjust="spacingAndGlyphs">coinglass</text>
<path d="M1180.5 396.2 L1181.3 397.7 L1184.7 396.8 L1189.2 397.1 L1191.2 396.5 L1192.0 399.3 L1195.4 400.5 L1196.9 402.5 L1196.0 403.9 L1193.2 404.2 L1192.6 406.7 L1192.3 409.5 L1190.9 411.5 L1192.6 413.5 L1193.2 415.2 L1192.0 417.4 L1189.8 420.3 L1188.1 421.4 L1186.4 418.6 L1185.3 421.4 L1181.9 421.1 L1180.2 419.1 L1178.2 420.5 L1178.5 419.7 L1179.9 417.7 L1178.5 414.6 L1179.3 412.9 L1180.5 411.5 L1178.2 409.0 L1177.6 406.1 L1177.1 404.2 L1175.1 403.6 L1174.2 402.2 L1175.1 400.5 L1178.5 399.6 L1179.6 398.2 Z" fill="#bcbebf" stroke="#bcbebf" stroke-width="0.6" stroke-linejoin="round"/>
<rect x="104" y="453" width="1192" height="60" fill="#10192d"/>
<rect x="97.5" y="475.5" width="14.5" height="17" rx="5" fill="#3a3d4c"/>
<rect x="102.1" y="481" width="1.1" height="6.3" fill="#a2a6b6"/>
<rect x="105.5" y="481" width="1.1" height="6.3" fill="#a2a6b6"/>
<rect x="1287.4" y="475.5" width="14.5" height="17" rx="5" fill="#3a3d4c"/>
<rect x="1292.0" y="481" width="1.1" height="6.3" fill="#a2a6b6"/>
<rect x="1295.4" y="481" width="1.1" height="6.3" fill="#a2a6b6"/>
</svg></body></html>
